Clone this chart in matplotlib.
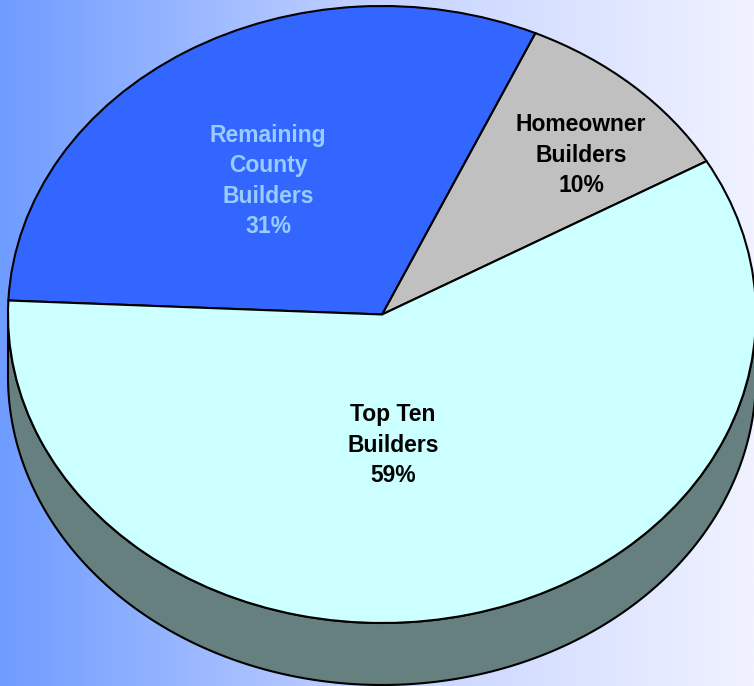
import numpy as np
import matplotlib.pyplot as plt
from matplotlib.colors import LinearSegmentedColormap

# slices, counter-clockwise starting at the Homeowner wedge
labels = ['Homeowner\nBuilders\n10%', 'Remaining\nCounty\nBuilders\n31%', 'Top Ten\nBuilders\n59%']
values = [10, 31, 59]
colors = ['#C0C0C0', '#3366FF', '#CCFFFF']
text_colors = ['black', '#99CCFF', 'black']
label_px = [(581, 155), (268, 181), (393, 445)]  # label centres in pixels

W, H = 754, 686
cx, cy = 382, 314.5      # pie centre (px)
rx, ry = 374, 308.5      # ellipse radii (px)
depth = 62 / ry          # 3d side depth in y units

plt.rcParams['font.family'] = ['Liberation Sans', 'DejaVu Sans']

fig = plt.figure(figsize=(W / 100, H / 100), dpi=100)
ax = fig.add_axes([0, 0, 1, 1])

xlim = (-cx / rx, (W - cx) / rx)
ylim = ((cy - H) / ry, cy / ry)

# background gradient
cmap = LinearSegmentedColormap.from_list('bg', ['#6F9CFF', '#C4D2FF', '#F0F2FF'])
grad = np.linspace(0, 1, 256).reshape(1, -1)
ax.imshow(grad, cmap=cmap, extent=[xlim[0], xlim[1], ylim[0], ylim[1]],
          aspect='auto', zorder=0)

# 3d side (lower half of the ellipse, dropped by depth)
t = np.linspace(np.pi, 2 * np.pi, 400)
xs = np.concatenate([np.cos(t), np.cos(t[::-1])])
ys = np.concatenate([np.sin(t), np.sin(t[::-1]) - depth])
ax.fill(xs, ys, facecolor='#668080', edgecolor='black', linewidth=1.5, zorder=1)

wedges, _ = ax.pie(values, colors=colors, startangle=29.8, counterclock=True,
                   radius=1, center=(0, 0),
                   wedgeprops=dict(edgecolor='black', linewidth=1.5, zorder=2))
for w in wedges:
    w.set_zorder(2)

for lab, (px, py), tc in zip(labels, label_px, text_colors):
    ax.text((px - cx) / rx, (cy - py) / ry, lab, ha='center', va='center',
            fontsize=16.5, fontweight='bold', color=tc, linespacing=1.4,
            zorder=3)

ax.set_aspect('auto')
ax.set_xlim(*xlim)
ax.set_ylim(*ylim)
ax.axis('off')

fig.savefig('out.png', dpi=100)
